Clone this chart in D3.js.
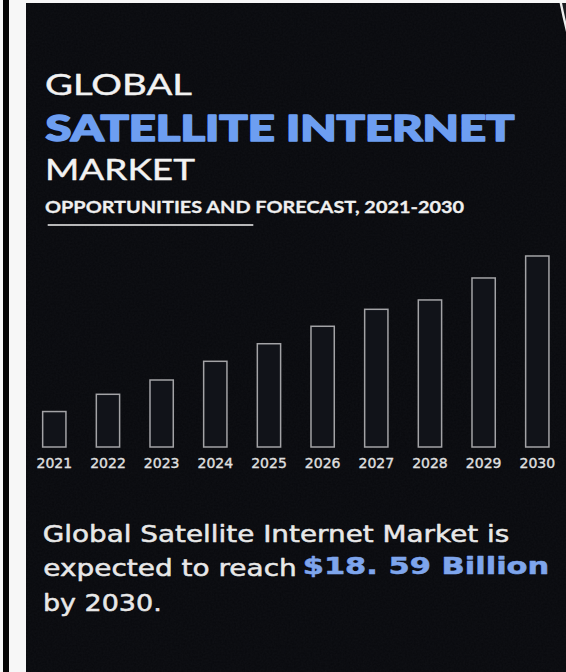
<!DOCTYPE html>
<html>
<head>
<meta charset="utf-8">
<script src="https://cdn.jsdelivr.net/npm/d3@7"></script>
<style>
  html, body { margin: 0; padding: 0; background: #ffffff; }
  svg { display: block; }
</style>
</head>
<body>
<div id="chart"></div>
<script>
// Forecast years and market size (USD billion)
const years = ["2021", "2022", "2023", "2024", "2025", "2026", "2027", "2028", "2029", "2030"];
const marketValue = [3.45, 5.13, 6.52, 8.34, 10.05, 11.75, 13.40, 14.31, 16.45, 18.59];

// Headline and summary copy
const titleLines = ["GLOBAL", "SATELLITE INTERNET", "MARKET"];
const subtitle = "OPPORTUNITIES AND FORECAST, 2021-2030";
const summaryLine1 = "Global Satellite Internet Market is";
const summaryLine2 = "expected to reach";
const summaryValue = "$18. 59 Billion";
const summaryLine3 = "by 2030.";

const W = 566, H = 672;

const svg = d3.select("#chart").append("svg")
  .attr("width", W).attr("height", H)
  .attr("viewBox", `0 0 ${W} ${H}`);

const defs = svg.append("defs");

// fine grain for the dark panel
const grain = defs.append("filter").attr("id", "grain")
  .attr("x", 0).attr("y", 0).attr("width", "100%").attr("height", "100%");
grain.append("feTurbulence").attr("type", "fractalNoise")
  .attr("baseFrequency", 0.55).attr("numOctaves", 2).attr("seed", 7).attr("result", "n");
grain.append("feColorMatrix").attr("in", "n").attr("type", "matrix")
  .attr("values", "0 0 0 0 0.45  0 0 0 0 0.48  0 0 0 0 0.55  0 0 0 0.045 0");

const clip = defs.append("clipPath").attr("id", "panelClip");
clip.append("rect").attr("x", 26).attr("y", 3).attr("width", W - 26).attr("height", H - 3);

// frame strips on the left
svg.append("rect").attr("x", 0).attr("y", 0).attr("width", W).attr("height", H).attr("fill", "#f7f7f7");
svg.append("rect").attr("x", 3).attr("y", 0).attr("width", 6).attr("height", H).attr("fill", "#050505");

// dark panel
const panel = svg.append("g").attr("clip-path", "url(#panelClip)");
panel.append("rect").attr("x", 26).attr("y", 3).attr("width", W - 26).attr("height", H - 3)
  .attr("fill", "#08090d");
panel.append("rect").attr("x", 26).attr("y", 3).attr("width", W - 26).attr("height", H - 3)
  .attr("filter", "url(#grain)");

// planet rim in the top-right corner
panel.append("circle")
  .attr("cx", 1140).attr("cy", -110).attr("r", 590)
  .attr("fill", "#1a1e22")
  .attr("stroke", "#eeeeee").attr("stroke-width", 2.4);

// ---- titles ----
const titleFont = "Lato, 'Open Sans', sans-serif";
function fitText(g, str, x, y, len, size, weight, fill, family, thicken) {
  return g.append("text")
    .attr("x", x).attr("y", y)
    .attr("textLength", len).attr("lengthAdjust", "spacingAndGlyphs")
    .style("font-family", family || titleFont)
    .style("font-size", size + "px")
    .style("font-weight", weight)
    .attr("fill", fill)
    .attr("stroke", thicken ? fill : "none")
    .attr("stroke-width", thicken || 0)
    .attr("stroke-linejoin", "round")
    .text(str);
}

fitText(svg, titleLines[0], 45, 95, 147, 28, 400, "#f2f2f2", null, 0.4);
fitText(svg, titleLines[1], 45.5, 141, 469, 36.5, 900, "#6d9ef1", null, 1.6);
fitText(svg, titleLines[2], 45, 180, 150, 28, 400, "#f2f2f2", null, 0.4);
fitText(svg, subtitle, 45, 212.7, 419, 17.6, 700, "#efefef", null, 0.3);

svg.append("line")
  .attr("x1", 47.7).attr("x2", 253.3).attr("y1", 225).attr("y2", 225)
  .attr("stroke", "#f0f0f0").attr("stroke-width", 1.6);

// ---- bar chart ----
const baseY = 447;
const x = d3.scaleBand()
  .domain(years)
  .range([27.47, 564.13])
  .paddingInner(0.566)
  .paddingOuter(0.283);

const y = d3.scaleLinear()
  .domain([0, 20])
  .range([baseY, baseY - 205.5]);

const data = years.map((yr, i) => ({ year: yr, value: marketValue[i] }));

svg.append("g").selectAll("rect")
  .data(data)
  .join("rect")
  .attr("x", d => x(d.year))
  .attr("y", d => y(d.value))
  .attr("width", x.bandwidth())
  .attr("height", d => y(0) - y(d.value))
  .attr("fill", "#111319")
  .attr("stroke", "#a3a3a6")
  .attr("stroke-width", 1.5);

const axis = svg.append("g")
  .attr("transform", `translate(0,${baseY})`)
  .call(d3.axisBottom(x).tickSize(0).tickPadding(11.4));
axis.select(".domain").remove();
axis.selectAll("text")
  .style("font-family", "'DejaVu Sans', Verdana, sans-serif")
  .style("font-size", "14px")
  .attr("fill", "#e0e0e0")
  .attr("stroke", "#e0e0e0")
  .attr("stroke-width", 0.35);

// ---- summary ----
const bodyFont = "'DejaVu Sans', Verdana, sans-serif";
fitText(svg, summaryLine1, 42.7, 542, 466.6, 23, 400, "#e8e8e8", bodyFont, 0.5);
fitText(svg, summaryLine2, 43.3, 576, 253.4, 23, 400, "#e8e8e8", bodyFont, 0.5);
fitText(svg, summaryValue, 302.7, 574, 246.6, 23, 700, "#7ea5ec", bodyFont, 0.5);
fitText(svg, summaryLine3, 43, 610.5, 118.7, 23, 400, "#e8e8e8", bodyFont, 0.5);
</script>
</body>
</html>
